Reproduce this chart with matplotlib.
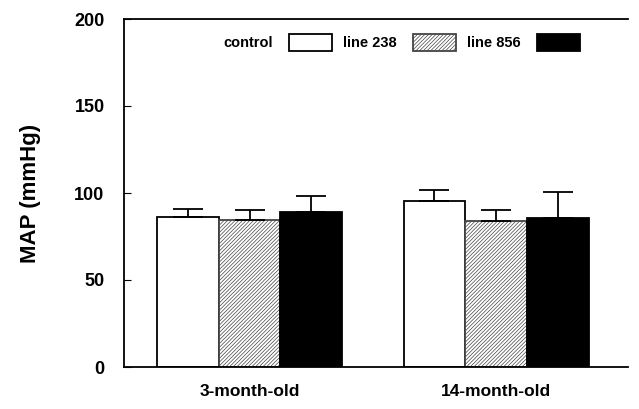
import matplotlib
matplotlib.use("Agg")
import matplotlib.pyplot as plt
import numpy as np

# 数据
groups = ["3-month-old", "14-month-old"]
series = ["control", "line 238", "line 856"]
control = [86.4, 95.4]
line238 = [84.5, 84.1]
line856 = [88.9, 85.8]
control_err = [4.6, 6.3]
line238_err = [5.7, 5.9]
line856_err = [9.4, 14.6]

plt.rcParams["font.family"] = ["Liberation Sans", "DejaVu Sans"]
plt.rcParams["font.weight"] = "bold"
plt.rcParams["hatch.linewidth"] = 0.5

fig = plt.figure(figsize=(6.39, 4.09), dpi=100)
ax = fig.add_axes([124 / 639, 1 - 367 / 409, (628 - 124) / 639, (367 - 19) / 409])

x = np.arange(len(groups))
w = 0.25
styles = [
    dict(color="white", edgecolor="black", hatch=None),
    dict(color="white", edgecolor="#444444", hatch="/////////"),
    dict(color="black", edgecolor="black", hatch=None),
]
values = [control, line238, line856]
errs = [control_err, line238_err, line856_err]
handles = []
for i, (vals, err, st) in enumerate(zip(values, errs, styles)):
    b = ax.bar(x + (i - 1) * w, vals, w, yerr=[np.zeros(len(err)), err],
               capsize=10.5, error_kw=dict(elinewidth=1.3, capthick=1.3, ecolor="black"),
               facecolor=st["color"], edgecolor=st["edgecolor"], hatch=st["hatch"],
               linewidth=1.3, label=series[i])
    handles.append(b)

ax.set_ylim(0, 200)
ax.set_xlim(-0.509, 1.535)
ax.set_yticks([0, 50, 100, 150, 200])
ax.tick_params(axis="y", direction="in", length=5, labelsize=13, pad=14)
ax.set_xticks(x)
ax.set_xticklabels(groups, fontsize=12.5, fontweight="bold")
ax.tick_params(axis="x", length=0, pad=12)
ax.set_ylabel("MAP (mmHg)", fontsize=16, fontweight="bold", labelpad=24)
ax.spines["right"].set_visible(False)
for s in ["left", "top", "bottom"]:
    ax.spines[s].set_linewidth(1.3)

ax.legend(handles=handles, ncol=3, markerfirst=False, frameon=False,
          fontsize=10.5, handlelength=2.95, handleheight=1.45, columnspacing=0.75,
          handletextpad=1.1, loc="upper left", bbox_to_anchor=(0.172, 0.995))

fig.savefig("out.png", dpi=100)
